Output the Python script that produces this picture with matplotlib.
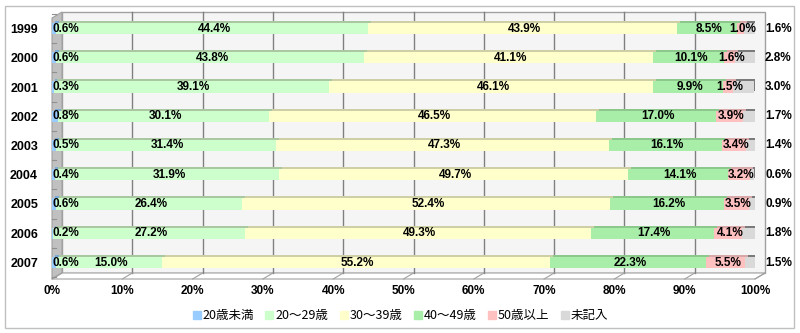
import numpy as np
import matplotlib
matplotlib.use('Agg')
import matplotlib.pyplot as plt
from matplotlib.patches import Rectangle, Polygon
from matplotlib.lines import Line2D
import matplotlib.transforms as mtransforms

# 年度ごとの年齢構成比（%）
years = ['1999', '2000', '2001', '2002', '2003', '2004', '2005', '2006', '2007']
age_labels = ['20歳未満', '20～29歳', '30～39歳', '40～49歳', '50歳以上', '未記入']
under20 = [0.6, 0.6, 0.3, 0.8, 0.5, 0.4, 0.6, 0.2, 0.6]
age20s = [44.4, 43.8, 39.1, 30.1, 31.4, 31.9, 26.4, 27.2, 15.0]
age30s = [43.9, 41.1, 46.1, 46.5, 47.3, 49.7, 52.4, 49.3, 55.2]
age40s = [8.5, 10.1, 9.9, 17.0, 16.1, 14.1, 16.2, 17.4, 22.3]
over50 = [1.0, 1.6, 1.5, 3.9, 3.4, 3.2, 3.5, 4.1, 5.5]
no_answer = [1.6, 2.8, 3.0, 1.7, 1.4, 0.6, 0.9, 1.8, 1.5]

series = [under20, age20s, age30s, age40s, over50, no_answer]
colors = ['#99CCFF', '#CCFFCC', '#FFFFCC', '#A8EEA8', '#FFC0C0', '#D9D9D9']
top_colors = ['#7AAAD8', '#A9C8A2', '#CFCFA6', '#8CC88C', '#D8A8A8', '#7A7A7A']

W, H = 800, 333
fig = plt.figure(figsize=(W / 100, H / 100), dpi=100)
fig.patch.set_facecolor('white')
fig.patches.append(Rectangle((5 / W, 5 / H), 789 / W, 322 / H, transform=fig.transFigure,
                             fill=False, edgecolor='#C0C0C0', linewidth=1))

# 前面の枠（ピクセル指定）
x0, x1 = 52, 755
y_top, y_bot = 18, 279
ax = fig.add_axes([x0 / W, (H - y_bot) / H, (x1 - x0) / W, (y_bot - y_top) / H])
ax.set_xlim(0, 100)
row0, step = 28.5, 29.25
ax.set_ylim((y_bot - row0) / step, (y_top - row0) / step)
ax.patch.set_visible(False)
for s in ax.spines.values():
    s.set_visible(False)

# 奥行き（3D風のずらし量）
ox = 10 / (x1 - x0)
oy = 6 / (y_bot - y_top)
dxd = ox * 100
blend = mtransforms.blended_transform_factory(ax.transData, ax.transAxes)

# 奥の壁・左の壁・床
ax.add_patch(Rectangle((ox, oy), 1, 1, transform=ax.transAxes, facecolor='#F5F5F5',
                       edgecolor='#A0A0A0', linewidth=1, clip_on=False, zorder=0))
ax.add_patch(Polygon([(0, 0), (ox, oy), (ox, 1 + oy), (0, 1)], closed=True,
                     transform=ax.transAxes, facecolor='#C0C0C0', edgecolor='#A0A0A0',
                     linewidth=0.8, clip_on=False, zorder=0.5))
ax.add_patch(Polygon([(0, 0), (1, 0), (1 + ox, oy), (ox, oy)], closed=True,
                     transform=ax.transAxes, facecolor='white', edgecolor='#A0A0A0',
                     linewidth=0.8, clip_on=False, zorder=0.5))
for k in range(1, 10):
    ax.plot([k * 10 + dxd] * 2, [oy, 1 + oy], color='#808080', lw=1,
            transform=blend, clip_on=False, zorder=0.6)
for k in range(0, 11):
    ax.plot([k * 10, k * 10 + dxd], [0, oy], color='#A0A0A0', lw=0.8,
            transform=blend, clip_on=False, zorder=0.6)
for i in range(len(years) + 1):
    yb = i - 0.5
    ax.plot([0, dxd * 0.35], [yb, yb], color='#909090', lw=0.8, clip_on=False, zorder=0.7)

# 積み上げ横棒（上面を少しずらして立体感を出す）
y = np.arange(len(years))
h = 0.38
shift = mtransforms.ScaledTranslation(3 / 100, 2 / 100, fig.dpi_scale_trans)
left = np.zeros(len(years))
for vals, c, tc in zip(series, colors, top_colors):
    ax.barh(y, vals, left=left, height=h, color=tc, linewidth=0,
            transform=ax.transData + shift, zorder=2)
    left = left + np.array(vals)
left = np.zeros(len(years))
for vals, c in zip(series, colors):
    ax.barh(y, vals, left=left, height=h, color=c, linewidth=0, zorder=3)
    left = left + np.array(vals)

# 値ラベル
lab_font = dict(family='Liberation Sans', weight='bold', size=8.5, color='black')
txt_shift = mtransforms.ScaledTranslation(2 / 100, 0, fig.dpi_scale_trans)
for r in range(len(years)):
    cum = 0.0
    for j, vals in enumerate(series):
        v = vals[r]
        label = f'{v:.1f}%'
        if j == 0:
            ax.text(0.1, r, label, ha='left', va='center', zorder=5, **lab_font)
        elif j == len(series) - 1:
            ax.text(100 + dxd, r, label, ha='left', va='center', zorder=5,
                    clip_on=False, **lab_font)
        else:
            ax.text(cum + v / 2, r, label, ha='center', va='center', zorder=5,
                    transform=ax.transData + txt_shift, **lab_font)
        cum += v

ax.set_yticks(y)
ax.set_yticklabels(years, fontfamily='Liberation Sans', fontweight='bold', fontsize=9)
ax.set_xticks(np.arange(0, 101, 10))
ax.set_xticklabels([f'{t}%' for t in range(0, 101, 10)], fontfamily='Liberation Sans',
                   fontweight='bold', fontsize=8.5)
ax.tick_params(axis='y', length=0, pad=10)
ax.tick_params(axis='x', length=0, pad=4)

# 凡例
handles = [Line2D([], [], marker='s', linestyle='', markersize=6, color=c) for c in colors]
fig.legend(handles, age_labels, loc='center', bbox_to_anchor=(400 / W, 1 - 316 / H),
           ncol=6, frameon=False, handlelength=0.7, handletextpad=0.1, columnspacing=0.9,
           prop={'family': 'Noto Sans CJK JP', 'size': 9})

fig.savefig('out.png', dpi=100)
plt.close(fig)
